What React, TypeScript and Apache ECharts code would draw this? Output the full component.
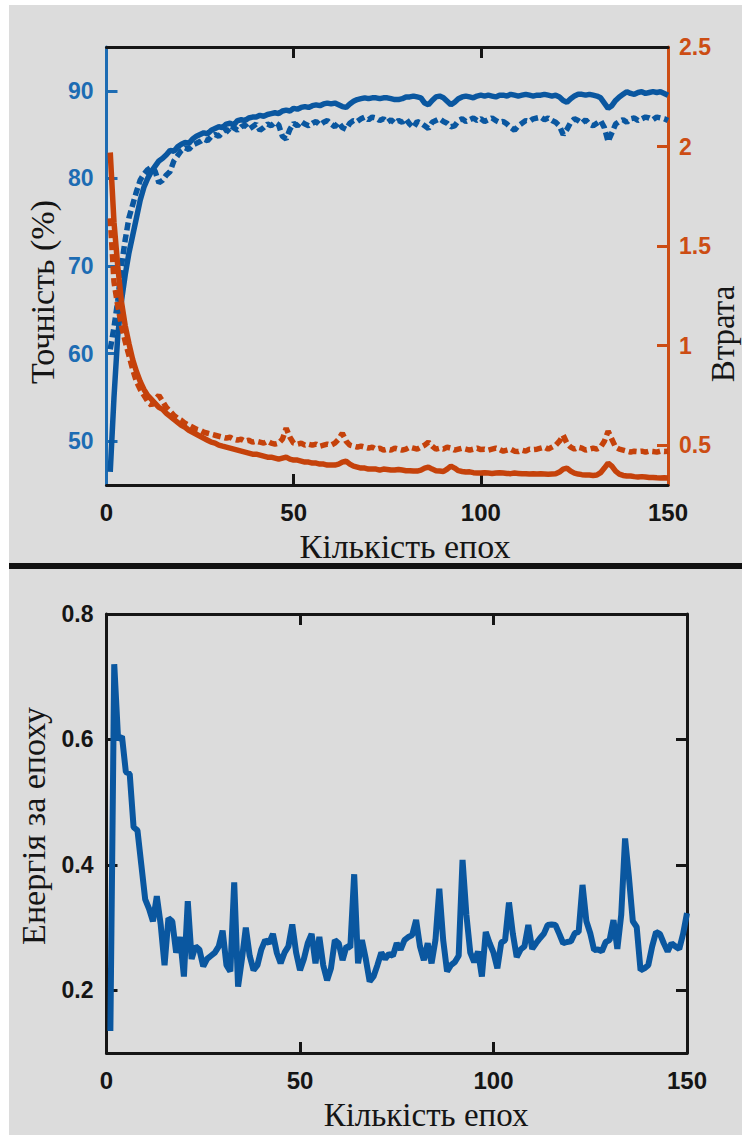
import React, { useEffect, useRef } from "react";
import * as echarts from "echarts";

// ---------- data ----------
const epochs: number[] = Array.from({ length: 150 }, (_, i) => i + 1);

// top chart: accuracy (%) – solid (training) and dashed (validation)
const trainAcc: number[] = [
  46.5, 55, 62, 66, 69, 71.5, 73.5, 75.5, 77.5, 79,
  80, 80.8, 81.4, 82, 82.3, 82.7, 83.2, 83.1, 83.6, 83.9,
  84.1, 84.0, 84.5, 84.8, 85.0, 85.2, 85.1, 85.5, 85.7, 85.9,
  85.8, 86.2, 86.3, 86.1, 86.6, 86.7, 86.6, 86.9, 87.0, 87.0,
  87.2, 87.1, 87.3, 87.4, 87.5, 87.4, 87.7, 87.8, 87.7, 88.0,
  87.9, 88.1, 88.2, 88.1, 88.3, 88.4, 88.3, 88.5, 88.6, 88.5,
  88.6, 88.4, 88.2, 88.1, 88.5, 88.8, 89.0, 89.1, 89.2, 89.1,
  89.2, 89.2, 89.1, 89.2, 89.2, 89.1, 89.0, 89.0, 89.1, 89.3,
  89.3, 89.4, 89.3, 89.2, 88.6, 88.4, 88.9, 89.3, 89.4, 89.2,
  88.8, 88.4, 88.7, 89.1, 89.3, 89.4, 89.3, 89.2, 89.4, 89.5,
  89.4, 89.5, 89.4, 89.3, 89.5, 89.5, 89.4, 89.6, 89.5, 89.4,
  89.5, 89.6, 89.5, 89.4, 89.5, 89.5, 89.6, 89.5, 89.4, 89.5,
  89.3, 88.9, 88.7, 89.1, 89.4, 89.6, 89.6, 89.5, 89.6, 89.5,
  89.4, 89.2, 88.6, 88.0, 88.3, 88.9, 89.3, 89.6, 89.9, 89.7,
  89.6, 89.8, 89.9, 89.7, 89.8, 89.9, 89.8, 89.9, 89.7, 89.5,
];
const valAcc: number[] = [
  60.5, 63, 66, 70, 73, 75.5, 77, 78.5, 79.8, 80.5,
  81, 81.3, 80.8, 79.5, 79.8, 80.4, 80.8, 82.0, 82.6, 83.2,
  83.5, 83.3, 83.8, 84.0, 84.2, 84.5, 84.3, 84.8, 85.0, 84.8,
  85.3, 85.6, 85.2, 85.8, 85.5, 85.9, 86.1, 85.6, 85.9, 86.2,
  85.5, 85.8, 86.2, 86.0, 86.4, 86.1, 84.8, 84.5, 85.6, 86.3,
  86.0, 86.5, 86.2, 86.0, 86.3, 86.5, 86.1, 86.4, 86.6, 86.2,
  85.9, 86.4, 85.8, 85.6, 86.3, 86.6, 86.5, 86.8, 87.0, 86.7,
  87.0, 86.9, 86.6, 86.8, 86.4, 86.7, 86.3, 86.6, 86.4, 86.8,
  86.2, 85.8, 86.5, 86.3, 86.0, 85.7, 86.4, 86.6, 86.8, 86.5,
  86.3, 85.9, 86.0, 86.6, 86.8, 86.5, 86.7, 86.9, 86.6, 86.8,
  86.5, 86.7, 86.9, 86.6, 86.4, 86.5, 86.2, 85.8, 85.5, 86.0,
  86.3, 86.6, 86.5, 86.8, 86.9, 87.0, 86.7, 86.9, 86.6, 86.4,
  86.0, 85.0, 85.6, 86.4, 86.8, 86.6, 86.3, 86.7, 86.2, 86.0,
  86.3, 86.6, 85.8, 84.2, 85.2, 86.2, 86.5, 86.7, 86.4, 86.8,
  86.9, 86.6, 86.8, 87.0, 86.9, 86.7, 87.0, 86.9, 86.8, 86.6,
];

// top chart: loss – solid (training) and dashed (validation)
const trainLoss: number[] = [
  1.97, 1.62, 1.40, 1.22, 1.10, 1.01, 0.93, 0.87, 0.82, 0.78,
  0.75, 0.73, 0.71, 0.69, 0.68, 0.66, 0.645, 0.63, 0.615, 0.60,
  0.59, 0.575, 0.565, 0.555, 0.545, 0.535, 0.525, 0.515, 0.51, 0.50,
  0.495, 0.49, 0.485, 0.48, 0.475, 0.47, 0.465, 0.46, 0.455, 0.455,
  0.45, 0.445, 0.44, 0.44, 0.435, 0.43, 0.435, 0.44, 0.43, 0.425,
  0.425, 0.42, 0.415, 0.415, 0.41, 0.41, 0.405, 0.405, 0.40, 0.40,
  0.40, 0.405, 0.415, 0.42, 0.405, 0.395, 0.39, 0.385, 0.385, 0.38,
  0.38, 0.38, 0.375, 0.38, 0.378, 0.375, 0.375, 0.378, 0.375, 0.372,
  0.372, 0.37, 0.37, 0.375, 0.385, 0.39, 0.38, 0.372, 0.37, 0.368,
  0.38, 0.395, 0.385, 0.372, 0.368, 0.365, 0.366, 0.362, 0.36, 0.36,
  0.362, 0.36, 0.358, 0.36, 0.362, 0.36, 0.358, 0.357, 0.36, 0.358,
  0.356, 0.357, 0.355, 0.356, 0.355, 0.356, 0.355, 0.354, 0.355, 0.356,
  0.365, 0.38, 0.385, 0.37, 0.36, 0.355, 0.352, 0.35, 0.35, 0.348,
  0.35, 0.362, 0.385, 0.41, 0.395, 0.37, 0.355, 0.348, 0.345, 0.345,
  0.342, 0.34, 0.342, 0.34, 0.338, 0.338, 0.336, 0.335, 0.336, 0.335,
];
const valLoss: number[] = [
  1.64, 1.32, 1.20, 1.10, 1.02, 0.95, 0.88, 0.82, 0.78, 0.75,
  0.72, 0.70, 0.73, 0.75, 0.72, 0.69, 0.67, 0.65, 0.635, 0.625,
  0.61, 0.60, 0.59, 0.58, 0.575, 0.565, 0.56, 0.555, 0.55, 0.545,
  0.54, 0.535, 0.54, 0.53, 0.525, 0.53, 0.52, 0.525, 0.515, 0.52,
  0.515, 0.51, 0.52, 0.51, 0.505, 0.51, 0.53, 0.585, 0.54, 0.51,
  0.505, 0.51, 0.50, 0.505, 0.50, 0.505, 0.495, 0.50, 0.505, 0.50,
  0.51, 0.53, 0.56, 0.52, 0.50, 0.495, 0.49, 0.495, 0.49, 0.485,
  0.49, 0.48, 0.485, 0.475, 0.48, 0.475, 0.485, 0.48, 0.475, 0.48,
  0.49, 0.485, 0.48, 0.49, 0.50, 0.515, 0.495, 0.48, 0.485, 0.48,
  0.49, 0.485, 0.475, 0.48, 0.485, 0.48, 0.475, 0.48, 0.485, 0.478,
  0.48, 0.475, 0.48, 0.485, 0.478, 0.47, 0.475, 0.48, 0.47, 0.468,
  0.475, 0.47, 0.48, 0.478, 0.48, 0.485, 0.49, 0.48, 0.49, 0.50,
  0.52, 0.55, 0.51, 0.49, 0.48, 0.49, 0.485, 0.475, 0.48, 0.485,
  0.48, 0.49, 0.52, 0.57, 0.53, 0.49, 0.48, 0.475, 0.47, 0.465,
  0.47, 0.468, 0.47, 0.465, 0.47, 0.468, 0.465, 0.47, 0.468, 0.47,
];

// bottom chart: energy per epoch
const energy: number[] = [
  0.135, 0.72, 0.60, 0.605, 0.548, 0.545, 0.46, 0.455, 0.40, 0.345,
  0.33, 0.31, 0.35, 0.305, 0.24, 0.315, 0.31, 0.26, 0.285, 0.222,
  0.342, 0.25, 0.27, 0.265, 0.238, 0.25, 0.255, 0.26, 0.27, 0.295,
  0.24, 0.23, 0.372, 0.206, 0.25, 0.30, 0.255, 0.232, 0.24, 0.265,
  0.28, 0.275, 0.29, 0.26, 0.243, 0.26, 0.27, 0.305, 0.26, 0.232,
  0.25, 0.275, 0.29, 0.243, 0.285, 0.24, 0.216, 0.235, 0.28, 0.275,
  0.248, 0.27, 0.268, 0.385, 0.243, 0.28, 0.25, 0.214, 0.222, 0.24,
  0.26, 0.25, 0.258, 0.255, 0.275, 0.265, 0.28, 0.285, 0.288, 0.312,
  0.27, 0.248, 0.275, 0.243, 0.28, 0.362, 0.28, 0.23, 0.24, 0.245,
  0.255, 0.408, 0.32, 0.26, 0.245, 0.262, 0.222, 0.293, 0.275, 0.26,
  0.235, 0.276, 0.28, 0.34, 0.29, 0.253, 0.265, 0.27, 0.304, 0.266,
  0.275, 0.283, 0.29, 0.304, 0.305, 0.304, 0.29, 0.275, 0.277, 0.278,
  0.291, 0.293, 0.368, 0.31, 0.291, 0.264, 0.265, 0.262, 0.277, 0.28,
  0.312, 0.266, 0.32, 0.442, 0.38, 0.31, 0.301, 0.232, 0.235, 0.24,
  0.27, 0.293, 0.29, 0.275, 0.262, 0.275, 0.27, 0.266, 0.29, 0.323,
];

const xTicks: number[] = [0, 50, 100, 150];
const accTicks: number[] = [50, 60, 70, 80, 90];
const lossTicks: number[] = [0.5, 1, 1.5, 2, 2.5];
const energyTicks: number[] = [0.2, 0.4, 0.6, 0.8];

// ---------- styles ----------
const BLUE = "#0a57a0";
const BLUE_AX = "#1d6cb3";
const ORANGE = "#c5420b";
const ORANGE_AX = "#cc4d14";
const DARK = "#151515";
const BG = "#dcdcdc";
const TICK_FONT = '"Liberation Sans", Arial, sans-serif';
const TITLE_FONT = '"Liberation Serif", "Times New Roman", serif';

const pairs = (ys: number[]) => epochs.map((e, i) => [e, ys[i]]);

function xAxisDef(grid: number, pos: "bottom" | "top", labels: boolean) {
  return {
    gridIndex: grid,
    type: "value",
    position: pos,
    min: 0,
    max: 150,
    axisLine: { show: true, onZero: false, lineStyle: { color: DARK, width: 3 } },
    axisTick: {
      show: true,
      inside: true,
      length: 11,
      customValues: [50, 100],
      lineStyle: { color: DARK, width: 3 },
    },
    axisLabel: {
      show: labels,
      customValues: xTicks,
      margin: 15,
      fontSize: 24,
      fontWeight: "bold",
      fontFamily: TICK_FONT,
      color: DARK,
    },
    splitLine: { show: false },
  };
}

function yAxisDef(
  grid: number,
  pos: "left" | "right",
  min: number,
  max: number,
  color: string,
  ticks: number[],
  labels: number[] | null
) {
  return {
    gridIndex: grid,
    type: "value",
    position: pos,
    min,
    max,
    axisLine: { show: true, onZero: false, lineStyle: { color, width: 3 } },
    axisTick: {
      show: true,
      inside: true,
      length: 11,
      customValues: ticks,
      lineStyle: { color, width: 3 },
    },
    axisLabel: {
      show: !!labels,
      customValues: labels || [],
      margin: pos === "left" ? 13 : 11,
      fontSize: 23,
      fontWeight: "bold",
      fontFamily: TICK_FONT,
      color,
    },
    splitLine: { show: false },
  };
}

function title(text: string, x: number, y: number, rotate: boolean, size = 34) {
  return {
    type: "text",
    x,
    y,
    rotation: rotate ? Math.PI / 2 : 0,
    silent: true,
    style: {
      text,
      font: `${size}px ${TITLE_FONT}`,
      fill: DARK,
      textAlign: "center",
      textVerticalAlign: "middle",
    },
  };
}

export default function App() {
  const ref = useRef<HTMLDivElement>(null);

  useEffect(() => {
    if (!ref.current) return;
    const chart = echarts.init(ref.current, undefined, { renderer: "svg" });
    const option = {
      animation: false,
      backgroundColor: BG,
      graphic: [
        { type: "rect", shape: { x: 0, y: 0, width: 9, height: 1135 }, style: { fill: "#ffffff" }, silent: true },
        { type: "rect", shape: { x: 0, y: 0, width: 742, height: 5 }, style: { fill: "#ffffff" }, silent: true },
        { type: "rect", shape: { x: 9, y: 563, width: 733, height: 6 }, style: { fill: "#111111" }, silent: true },
        title("Кількість епох", 405, 546, false),
        title("Точність (%)", 42, 292, true),
        title("Втрата", 723, 334, true, 33),
        title("Енергія за епоху", 33, 826, true),
        title("Кількість епох", 426, 1115, false, 33),
      ],
      grid: [
        { left: 106.5, top: 47, width: 561.5, height: 438, containLabel: false },
        { left: 106.5, top: 614, width: 580.5, height: 439, containLabel: false },
      ],
      xAxis: [
        xAxisDef(0, "bottom", true),
        xAxisDef(0, "top", false),
        xAxisDef(1, "bottom", true),
        xAxisDef(1, "top", false),
      ],
      yAxis: [
        yAxisDef(0, "left", 45, 95, BLUE_AX, accTicks, accTicks),
        yAxisDef(0, "right", 0.3, 2.5, ORANGE_AX, [0.5, 1, 1.5, 2], lossTicks),
        yAxisDef(1, "left", 0.1, 0.8, DARK, [0.2, 0.4, 0.6], energyTicks),
        yAxisDef(1, "right", 0.1, 0.8, DARK, [0.2, 0.4, 0.6], null),
      ],
      series: [
        {
          name: "trainAcc",
          type: "line",
          xAxisIndex: 0,
          yAxisIndex: 0,
          data: pairs(trainAcc),
          symbol: "none",
          lineStyle: { color: BLUE, width: 5.5 },
        },
        {
          name: "valAcc",
          type: "line",
          xAxisIndex: 0,
          yAxisIndex: 0,
          data: pairs(valAcc),
          symbol: "none",
          lineStyle: { color: BLUE, width: 5.5, type: [8, 4] },
        },
        {
          name: "trainLoss",
          type: "line",
          xAxisIndex: 0,
          yAxisIndex: 1,
          data: pairs(trainLoss),
          symbol: "none",
          lineStyle: { color: ORANGE, width: 5.5 },
        },
        {
          name: "valLoss",
          type: "line",
          xAxisIndex: 0,
          yAxisIndex: 1,
          data: pairs(valLoss),
          symbol: "none",
          lineStyle: { color: ORANGE, width: 5.5, type: [8, 4] },
        },
        {
          name: "energy",
          type: "line",
          xAxisIndex: 2,
          yAxisIndex: 2,
          data: pairs(energy),
          symbol: "none",
          lineStyle: { color: BLUE, width: 6 },
        },
      ],
    };
    chart.setOption(option as any);
    return () => chart.dispose();
  }, []);

  return (
    <div
      ref={ref}
      style={{ position: "absolute", left: 0, top: 0, width: 742, height: 1135 }}
    />
  );
}
